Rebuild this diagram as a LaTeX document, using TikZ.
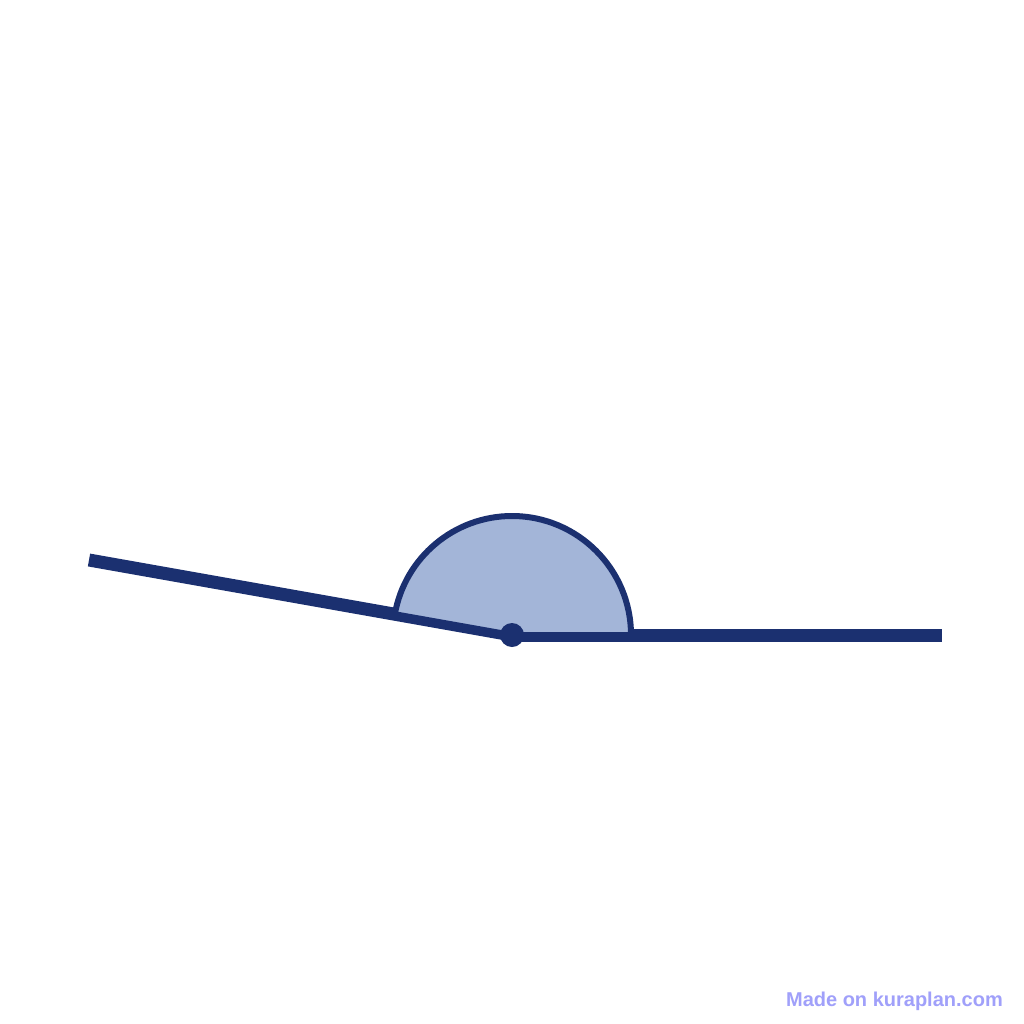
\documentclass[tikz,border=0pt]{standalone}
\usepackage{fontspec}
\newfontfamily\wmfont{Liberation Sans}
\definecolor{navy}{RGB}{27,48,112}
\definecolor{fillblue}{RGB}{163,181,216}
\definecolor{wmcol}{RGB}{160,160,250}
\tikzset{
  ray/.style={draw=navy,line width=13pt,line cap=butt},
  sector/.style={draw=navy,fill=fillblue,line width=6pt,line join=round},
  vdot/.style={circle,fill=navy,inner sep=0pt,minimum size=24pt},
  wmark/.style={text=wmcol,font=\wmfont\bfseries\fontsize{20}{20}\selectfont,inner sep=0pt}
}
\begin{document}
\begin{tikzpicture}[x=1pt,y=-1pt]
\useasboundingbox (0,0) rectangle (1024,1024);
\fill[white] (0,0) rectangle (1024,1024);
\coordinate (V) at (512,635);
\coordinate (A) at (89,560);
\coordinate (B) at (942,635);
\draw[ray] (A) -- (V);
\draw[ray] (V) -- (B);
\filldraw[sector] (V) -- ++(0:119) arc[start angle=0,end angle=-169.95,radius=119] -- cycle;
\node[vdot] (D) at (V) {};
\node[wmark,anchor=base east] (W) at (1003,1006) {Made on kuraplan.com};
\end{tikzpicture}
\end{document}
